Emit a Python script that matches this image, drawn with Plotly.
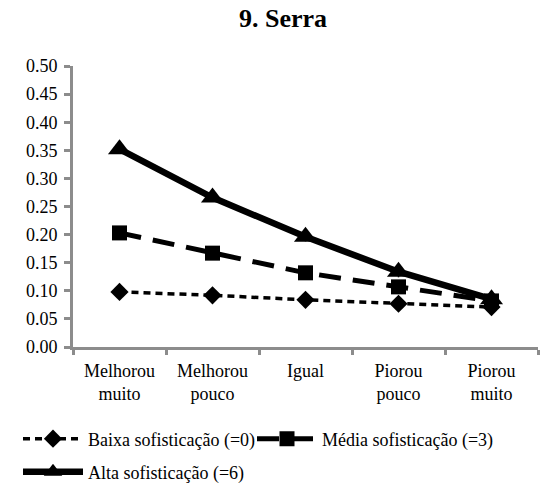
import plotly.graph_objects as go

categories = ["Melhorou<br>muito", "Melhorou<br>pouco", "Igual", "Piorou<br>pouco", "Piorou<br>muito"]
baixa = [0.098, 0.092, 0.084, 0.077, 0.071]
media = [0.203, 0.167, 0.132, 0.107, 0.082]
alta = [0.352, 0.266, 0.196, 0.134, 0.085]
err_baixa = [0.012, 0.011, 0.011, 0.011, 0.011]
err_media = [0.006, 0.006, 0.006, 0.01, 0.008]
err_alta = [0.008, 0.008, 0.008, 0.01, 0.008]
yticks = [0.0, 0.05, 0.10, 0.15, 0.20, 0.25, 0.30, 0.35, 0.40, 0.45, 0.50]

FONT = "Liberation Serif"
W, H = 549, 485

fig = go.Figure()
fig.add_trace(go.Scatter(
    x=categories, y=baixa, name="Baixa sofisticação (=0)", mode="lines+markers",
    line=dict(color="black", width=3.5, dash="7px,5px"),
    marker=dict(symbol="diamond", size=14, color="black"),
    error_y=dict(type="data", array=err_baixa, color="black", thickness=1.5, width=0),
    legend="legend",
))
fig.add_trace(go.Scatter(
    x=categories, y=media, name="Média sofisticação (=3)", mode="lines+markers",
    line=dict(color="black", width=5, dash="22px,12px"),
    marker=dict(symbol="square", size=15, color="black"),
    error_y=dict(type="data", array=err_media, color="black", thickness=1.5, width=0),
    legend="legend2",
))
fig.add_trace(go.Scatter(
    x=categories, y=alta, name="Alta sofisticação (=6)", mode="lines+markers",
    line=dict(color="black", width=6.5),
    marker=dict(symbol="triangle-up", size=20, color="black"),
    error_y=dict(type="data", array=err_alta, color="black", thickness=1.5, width=0),
    legend="legend3",
))

leg_common = dict(xref="container", yref="container", xanchor="left", yanchor="middle",
                  font=dict(family=FONT, size=18, color="black"), itemwidth=60,
                  bgcolor="rgba(0,0,0,0)")

fig.update_layout(
    width=W, height=H,
    margin=dict(l=73, r=11, t=66, b=138, autoexpand=False),
    paper_bgcolor="white", plot_bgcolor="white",
    font=dict(family=FONT, size=18, color="black"),
    title=dict(text="<b>9. Serra</b>", x=283 / W, xanchor="center", y=1 - 18 / H, yanchor="middle",
               font=dict(family=FONT, size=26, color="black")),
    showlegend=True,
    legend=dict(x=18 / W, y=1 - 439 / H, **leg_common),
    legend2=dict(x=252 / W, y=1 - 439 / H, **leg_common),
    legend3=dict(x=18 / W, y=1 - 472 / H, **leg_common),
)
fig.update_xaxes(
    type="category", showline=True, linecolor="#8c8c8c", linewidth=3,
    ticks="outside", tickson="boundaries", tickcolor="#8c8c8c", ticklen=5, tickwidth=3,
    showgrid=False, tickfont=dict(family=FONT, size=18, color="black"),
    range=[-0.5, 4.5], ticklabelstandoff=5,
)
fig.update_yaxes(
    range=[0, 0.5], tickvals=yticks, tickformat=".2f",
    showline=True, linecolor="#8c8c8c", linewidth=3,
    ticks="outside", tickcolor="#8c8c8c", ticklen=6, tickwidth=3,
    showgrid=False, zeroline=False, tickfont=dict(family=FONT, size=18, color="black"),
    ticklabelstandoff=3,
)

fig.write_html("out.html", config={"displayModeBar": False},
               post_script="document.body.style.margin='0';")
